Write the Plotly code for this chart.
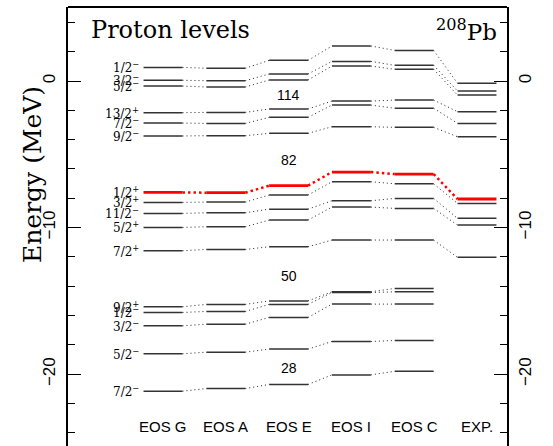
import plotly.graph_objects as go

# ---- data ----
columns = ["EOS G", "EOS A", "EOS E", "EOS I", "EOS C", "EXP."]
levels = ["1/2-", "3/2-", "5/2-", "13/2+", "7/2-", "9/2-", "1/2+", "3/2+",
          "11/2-", "5/2+", "7/2+", "9/2+", "1/2-", "3/2-", "5/2-", "7/2-"]
eos_g = [0.93, 0.05, -0.34, -2.16, -2.87, -3.75, -7.60, -8.28, -9.03, -9.99, -11.58,
         -15.40, -15.79, -16.70, -18.61, -21.16]
eos_a = [0.87, 0.02, -0.41, -2.14, -2.89, -3.73, -7.62, -8.26, -8.99, -9.94, -11.49,
         -15.24, -15.72, -16.59, -18.50, -20.98]
eos_e = [1.41, 0.48, 0.07, -1.91, -2.48, -3.57, -7.14, -7.78, -8.74, -9.49, -11.31,
         -15.00, -15.24, -16.13, -18.29, -20.70]
eos_i = [2.39, 1.34, 1.02, -1.37, -1.64, -3.12, -6.21, -6.87, -8.17, -8.60, -10.85,
         -14.38, -14.43, -15.22, -17.77, -20.05]
eos_c = [2.09, 1.07, 0.80, -1.30, -1.86, -3.16, -6.35, -7.01, -8.01, -8.69, -10.85,
         -14.15, -14.38, -15.22, -17.70, -19.80]
exp_ = [-0.16, -0.68, -0.96, -2.09, -2.89, -3.80, -8.05, -8.35, -9.37, -9.83, -12.03]
highlight_level = 6  # 1/2+ drawn in red

magic = ["114", "82", "50", "28"]
magic_E = [-0.96, -5.39, -13.31, -19.59]
magic_col = 2

# ---- figure ----
data = [eos_g, eos_a, eos_e, eos_i, eos_c, exp_]
HW = 0.31
fig = go.Figure()

lx, ly, rx, ry = [], [], [], []
cx, cy, crx, cry = [], [], [], []
for i, col in enumerate(data):
    for k, e in enumerate(col):
        if k == highlight_level:
            rx += [i - HW, i + HW, None]; ry += [e, e, None]
        else:
            lx += [i - HW, i + HW, None]; ly += [e, e, None]
        if i + 1 < len(data) and k < len(data[i + 1]):
            e2 = data[i + 1][k]
            if k == highlight_level:
                crx += [i + HW, i + 1 - HW, None]; cry += [e, e2, None]
            else:
                cx += [i + HW, i + 1 - HW, None]; cy += [e, e2, None]

fig.add_trace(go.Scatter(x=cx, y=cy, mode="lines",
                         line=dict(color="#222", width=1, dash="1px,3px"),
                         hoverinfo="skip", showlegend=False))
fig.add_trace(go.Scatter(x=crx, y=cry, mode="lines",
                         line=dict(color="red", width=2.5, dash="2.5px,3px"),
                         hoverinfo="skip", showlegend=False))
fig.add_trace(go.Scatter(x=lx, y=ly, mode="lines",
                         line=dict(color="#333", width=1.5),
                         hoverinfo="skip", showlegend=False))
fig.add_trace(go.Scatter(x=rx, y=ry, mode="lines",
                         line=dict(color="red", width=2.8),
                         hoverinfo="skip", showlegend=False))
fig.add_trace(go.Scatter(x=[None], y=[None], yaxis="y2", showlegend=False))

ann = []
for name, e in zip(levels, data[0]):
    txt = name[:-1] + "<sup>" + ("−" if name[-1] == "-" else "+") + "</sup>"
    ann.append(dict(x=-HW, y=e, xref="x", yref="y", text=txt, showarrow=False,
                    xanchor="right", yanchor="middle", xshift=-3,
                    font=dict(family="DejaVu Serif", size=12, color="black")))
for t, e in zip(magic, magic_E):
    ann.append(dict(x=magic_col, y=e, xref="x", yref="y", text=t, showarrow=False,
                    xanchor="center", yanchor="middle",
                    font=dict(family="Liberation Sans", size=14, color="black")))
for i, c in enumerate(columns):
    ann.append(dict(x=i, y=-23.55, xref="x", yref="y", text=c, showarrow=False,
                    xanchor="center", yanchor="middle",
                    font=dict(family="Liberation Sans", size=15, color="black")))
ann.append(dict(x=(89 - 68) / 439, y=(446 - 30) / 439, xref="paper", yref="paper",
                text="Proton levels", showarrow=False, xanchor="left", yanchor="middle",
                font=dict(family="DejaVu Serif", size=24, color="black")))
ann.append(dict(x=(499 - 68) / 439, y=(446 - 30) / 439, xref="paper", yref="paper",
                text="<sup>208</sup>Pb", showarrow=False, xanchor="right", yanchor="middle",
                font=dict(family="DejaVu Serif", size=23, color="black")))
ann.append(dict(x=(33 - 68) / 439, y=(446 - 175) / 439, xref="paper", yref="paper",
                text="Energy (MeV)", showarrow=False, textangle=-90,
                xanchor="center", yanchor="middle",
                font=dict(family="DejaVu Serif", size=25, color="black")))

yax = dict(range=[-24.9, 5.05], showgrid=False, zeroline=False,
           showline=True, linecolor="black", linewidth=2,
           ticks="inside", ticklen=13, tickwidth=1.2, tickcolor="black",
           tick0=0, dtick=10, tickangle=-90,
           tickfont=dict(family="Liberation Sans", size=17, color="black"),
           minor=dict(ticks="inside", ticklen=7, tickwidth=1.2, tickcolor="black", dtick=2),
           fixedrange=True)

fig.update_layout(
    width=553, height=446,
    margin=dict(l=68, r=46, t=7, b=0),
    plot_bgcolor="white", paper_bgcolor="white",
    xaxis=dict(range=[-1.513, 5.478], showgrid=False, zeroline=False,
               showline=False, showticklabels=False, ticks=""),
    yaxis=dict(side="left", ticklabelstandoff=4, **yax),
    yaxis2=dict(side="right", overlaying="y", ticklabelstandoff=2, **yax),
    annotations=ann,
    shapes=[dict(type="line", xref="paper", yref="paper", x0=0, x1=1, y0=1, y1=1,
                 line=dict(color="black", width=2))],
)

fig.write_html("out.html")
